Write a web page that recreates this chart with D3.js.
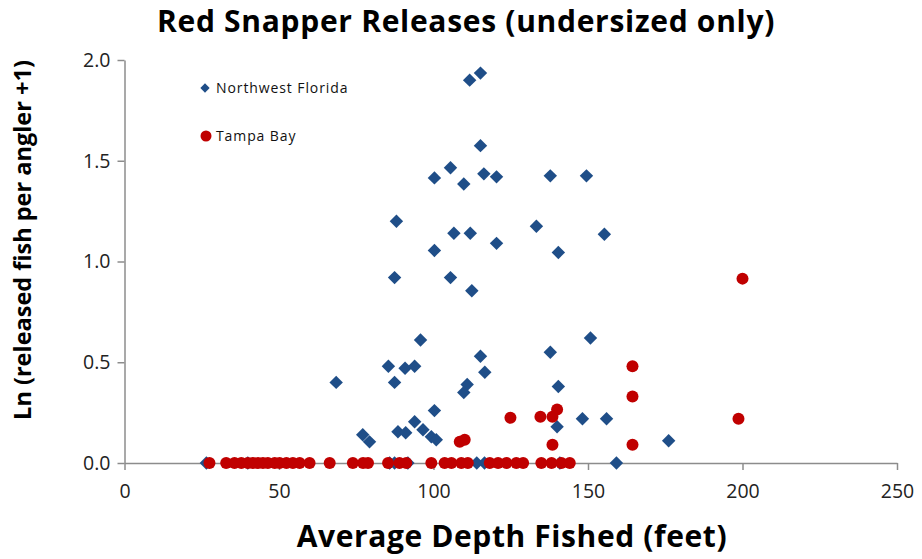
<!DOCTYPE html>
<html>
<head>
<meta charset="utf-8">
<script src="https://cdn.jsdelivr.net/npm/d3@7"></script>
<style>
body { margin: 0; background: #fff; }
text { font-family: "Open Sans", Lato, sans-serif; }
</style>
</head>
<body>
<div id="chart"></div>
<script>
// Northwest Florida (diamonds)
var nwDepth = [111.7, 115.2, 115.2, 105.5, 100.3, 109.8, 116.3, 120.4, 137.8, 149.5,
    88.0, 106.6, 111.9, 133.3, 155.3, 120.4, 100.3, 140.4, 87.4, 105.5, 112.4,
    95.8, 115.2, 85.4, 90.8, 93.9, 116.6, 68.5, 87.4, 110.9, 109.8, 100.3, 93.9, 96.6, 99.3, 100.9, 88.5, 91.0, 77.1, 79.3,
    150.8, 137.8, 140.4, 148.2, 156.0, 140.0, 176.1,
    26.5, 39.9, 85.8, 87.4, 91.7, 114.0, 116.5, 140.9, 159.2];
var nwLn = [1.90, 1.935, 1.575, 1.465, 1.415, 1.385, 1.435, 1.42, 1.425, 1.425,
    1.20, 1.14, 1.14, 1.175, 1.135, 1.09, 1.055, 1.045, 0.92, 0.92, 0.855,
    0.61, 0.53, 0.48, 0.47, 0.48, 0.45, 0.40, 0.40, 0.39, 0.35, 0.26, 0.205, 0.165, 0.13, 0.115, 0.155, 0.15, 0.14, 0.105,
    0.62, 0.55, 0.38, 0.22, 0.22, 0.18, 0.11,
    0, 0, 0, 0, 0, 0, 0, 0, 0];

// Tampa Bay (circles)
var tbDepth = [200.0, 164.4, 164.4, 124.9, 134.6, 138.5, 140.0, 198.7, 138.5, 164.4, 108.5, 110.1,
    27.5, 32.9, 35.6, 37.8, 39.9, 41.5, 43.2, 44.8, 46.4, 48.6, 50.2, 52.4, 54.5, 56.7, 59.9, 66.4,
    73.9, 77.2, 78.8, 85.3, 89.0, 91.2, 99.3, 103.6, 105.8, 109.0, 111.1, 118.2, 120.9, 123.6,
    126.8, 129.0, 134.9, 138.2, 141.4, 144.1];
var tbLn = [0.915, 0.48, 0.33, 0.225, 0.23, 0.23, 0.265, 0.22, 0.09, 0.09, 0.105, 0.115,
    0, 0, 0, 0, 0, 0, 0, 0, 0, 0, 0, 0, 0, 0, 0, 0,
    0, 0, 0, 0, 0, 0, 0, 0, 0, 0, 0, 0, 0, 0,
    0, 0, 0, 0, 0, 0];

var xTicks = [0, 50, 100, 150, 200, 250];
var yTicks = [0, 0.5, 1.0, 1.5, 2.0];

var W = 922, H = 559;
var margin = {top: 60, right: 25, bottom: 96, left: 124.5};
var blue = '#1F4E88', red = '#C00000', axisCol = '#8c8c8c';

var svg = d3.select('#chart').append('svg')
    .attr('width', W).attr('height', H);

var x = d3.scaleLinear().domain([0, 250]).range([margin.left, W - margin.right]);
var y = d3.scaleLinear().domain([0, 2]).range([H - margin.bottom, margin.top]);

// axes
var xAxis = svg.append('g')
    .attr('transform', 'translate(0,' + y(0) + ')')
    .call(d3.axisBottom(x).tickValues(xTicks).tickSize(7).tickSizeOuter(0).tickPadding(14));
var yAxis = svg.append('g')
    .attr('transform', 'translate(' + x(0) + ',0)')
    .call(d3.axisLeft(y).tickValues(yTicks).tickFormat(d3.format('.1f')).tickSize(7).tickSizeOuter(0).tickPadding(7));

[xAxis, yAxis].forEach(function(a) {
    a.selectAll('path, line').attr('stroke', axisCol).attr('stroke-width', 1.5);
    a.selectAll('text').attr('fill', '#222').style('font-size', '19.5px')
        .style('font-family', '"Open Sans", Lato, sans-serif');
});

// points
var diamond = d3.symbol().type(d3.symbolDiamond2).size(115);
svg.append('g').selectAll('path')
    .data(nwDepth.map(function(d, i) { return [d, nwLn[i]]; }))
    .enter().append('path')
    .attr('d', diamond)
    .attr('fill', blue)
    .attr('transform', function(d) { return 'translate(' + x(d[0]) + ',' + y(d[1]) + ')'; });

svg.append('g').selectAll('circle')
    .data(tbDepth.map(function(d, i) { return [d, tbLn[i]]; }))
    .enter().append('circle')
    .attr('r', 6)
    .attr('fill', red)
    .attr('cx', function(d) { return x(d[0]); })
    .attr('cy', function(d) { return y(d[1]); });

// legend
var leg = svg.append('g');
leg.append('path').attr('d', d3.symbol().type(d3.symbolDiamond2).size(55))
    .attr('fill', blue).attr('transform', 'translate(205,88)');
leg.append('text').attr('x', 216).attr('y', 93).style('font-size', '14px').style('letter-spacing', '0.9px')
    .attr('fill', '#111').text('Northwest Florida');
leg.append('circle').attr('cx', 206).attr('cy', 136).attr('r', 5.5).attr('fill', red);
leg.append('text').attr('x', 216).attr('y', 141).style('font-size', '14px').style('letter-spacing', '0.9px')
    .attr('fill', '#111').text('Tampa Bay');

// titles
svg.append('text')
    .attr('x', 466).attr('y', 32)
    .attr('text-anchor', 'middle')
    .style('font-size', '30px').style('font-weight', 'bold').style('letter-spacing', '0.7px')
    .text('Red Snapper Releases (undersized only)');

svg.append('text')
    .attr('x', 512).attr('y', 547)
    .attr('text-anchor', 'middle')
    .style('font-size', '30px').style('font-weight', 'bold').style('letter-spacing', '0.6px')
    .text('Average Depth Fished (feet)');

svg.append('text')
    .attr('transform', 'translate(31,' + 240 + ') rotate(-90)')
    .attr('text-anchor', 'middle')
    .style('font-size', '23.5px').style('font-weight', 'bold')
    .text('Ln (released fish per angler +1)');
</script>
</body>
</html>
